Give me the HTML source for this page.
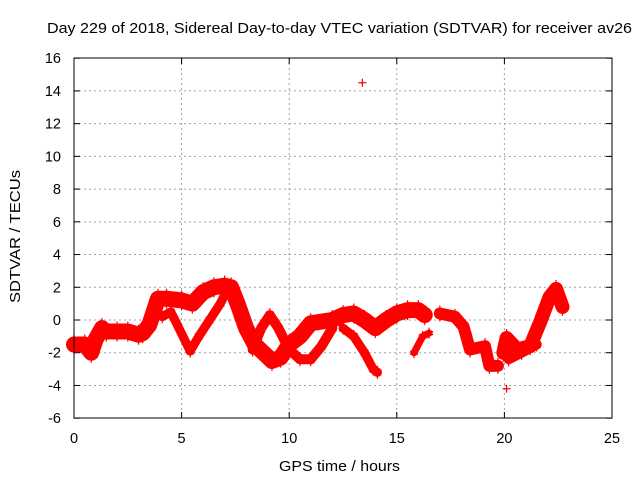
<!DOCTYPE html>
<html><head><meta charset="utf-8"><style>
body{margin:0;background:#fff}
svg{display:block;font-family:"Liberation Sans",Arial,sans-serif}
</style></head><body>
<svg id="chart" width="640" height="480" viewBox="0 0 640 480">
<text x="47" y="33" font-size="15" textLength="585" lengthAdjust="spacingAndGlyphs">Day 229 of 2018, Sidereal Day-to-day VTEC variation (SDTVAR) for receiver av26</text>
<text x="279" y="471" font-size="15" textLength="121" lengthAdjust="spacingAndGlyphs">GPS time / hours</text>
<text x="0" y="0" font-size="15" textLength="133" lengthAdjust="spacingAndGlyphs" transform="translate(20 303) rotate(-90)">SDTVAR / TECUs</text>
<g id="grid"></g>
<g id="ticks"></g>
<g id="marks"></g>
<rect x="74" y="58" width="538" height="360" fill="none" stroke="#000" stroke-width="1"/>
</svg>
<script>
const xTicks=[0,5,10,15,20,25];
const yTicks=[-6,-4,-2,0,2,4,6,8,10,12,14,16];
const trackMainH=[0,0.5,0.8,1.0,1.3,1.5,2,2.5,3,3.2,3.5,3.7,3.9,4.3,5,5.5,6,6.5,7,7.3,7.6,8,8.4,8.8,9.2,9.6,10,10.5,11,12,12.5,13,13.5,14,14.5,15,15.5,16,16.3];
const trackMainV=[-1.5,-1.5,-2,-1.2,-0.5,-0.7,-0.7,-0.7,-0.9,-0.8,-0.3,0.5,1.3,1.3,1.2,1.0,1.7,2.0,2.1,2.0,1.0,-0.5,-1.5,-2.0,-2.5,-2.3,-1.5,-1.0,-0.2,0.0,0.3,0.4,0.0,-0.5,0.0,0.4,0.6,0.6,0.3];
const trackBH=[3.7,4.1,4.5,5.4,5.8,6.3,6.8,7.1];
const trackBV=[0.5,0.2,0.5,-1.9,-1.0,0.0,1.0,1.8];
const trackCH=[8.3,8.7,9.1,9.5,10,10.5,11,11.5,12];
const trackCV=[-1.8,-0.5,0.3,-0.5,-1.8,-2.4,-2.4,-1.6,-0.5];
const trackDH=[12.5,13,13.5,13.9,14.1];
const trackDV=[-0.5,-1.0,-2.0,-3.0,-3.2];
const trackEH=[15.8,16.2,16.5];
const trackEV=[-2.0,-1.0,-0.8];
const trackFH=[17,17.7,18.1,18.4,19.1,19.3,19.7];
const trackFV=[0.4,0.2,-0.4,-1.8,-1.6,-2.8,-2.8];
const trackGH=[19.95,20.1,20.6,21.2,21.7,22.1,22.4,22.7];
const trackGV=[-2.0,-1.1,-1.8,-1.6,0,1.4,1.9,0.8];
const trackG2H=[20.2,20.8,21.5];
const trackG2V=[-2.4,-2.0,-1.5];
const outlierH=[13.4,20.1];
const outlierV=[14.5,-4.2];

const X=h=>74+h*538/25;
const Y=v=>320-v*360/22;
const NS="http://www.w3.org/2000/svg";
const grid=document.getElementById('grid'),ticks=document.getElementById('ticks'),marks=document.getElementById('marks');
function mk(tag,attrs,parent){const e=document.createElementNS(NS,tag);for(const k in attrs)e.setAttribute(k,attrs[k]);parent.appendChild(e);return e;}
xTicks.forEach(t=>{
  if(t>0&&t<25){const g=mk('line',{x1:X(t),x2:X(t),y1:58,y2:418,stroke:'#a0a0a0','stroke-dasharray':'2,3'},grid);
  
  }
  mk('line',{x1:X(t),x2:X(t),y1:418,y2:412,stroke:'#000'},ticks);
  mk('line',{x1:X(t),x2:X(t),y1:58,y2:64,stroke:'#000'},ticks);
  const l=mk('text',{x:X(t),y:443,'font-size':14.5,'text-anchor':'middle'},ticks);l.textContent=t;
  
  
});
yTicks.forEach(t=>{
  if(t>-6&&t<16){const g=mk('line',{x1:74,x2:612,y1:Y(t),y2:Y(t),stroke:'#a0a0a0','stroke-dasharray':'2,3'},grid);
  
  }
  mk('line',{x1:74,x2:80,y1:Y(t),y2:Y(t),stroke:'#000'},ticks);
  mk('line',{x1:612,x2:606,y1:Y(t),y2:Y(t),stroke:'#000'},ticks);
  const l=mk('text',{x:61,y:Y(t)+5,'font-size':14.5,'text-anchor':'end'},ticks);l.textContent=t;
  
  
});
function track(hs,vs,w,name){
  const p=mk('polyline',{points:hs.map((h,i)=>X(h)+','+Y(vs[i])).join(' '),fill:'none',stroke:'#ff0000','stroke-width':w,'stroke-linejoin':'round','stroke-linecap':'round'},marks);
  
  
  hs.forEach((h,i)=>plus(X(h),Y(vs[i])+w/2-2));
  hs.forEach((h,i)=>plus(X(h),Y(vs[i])-w/2+2));
}
function plus(x,y){
  const p=mk('path',{d:`M${x-4},${y}H${x+4}M${x},${y-4}V${y+4}`,stroke:'#ff0000','stroke-width':1.2},marks);
  
  
}
track(trackMainH,trackMainV,16,'series-main');
track(trackBH,trackBV,9,'series-branch-b');
track(trackCH,trackCV,10,'series-branch-c');
track(trackDH,trackDV,9,'series-branch-d');
track(trackEH,trackEV,7,'series-branch-e');
track(trackFH,trackFV,12,'series-branch-f');
track(trackGH,trackGV,14,'series-branch-g');
track(trackG2H,trackG2V,10,'series-branch-g2');
outlierH.forEach((h,i)=>plus(X(h),Y(outlierV[i])));
</script>
</body></html>
